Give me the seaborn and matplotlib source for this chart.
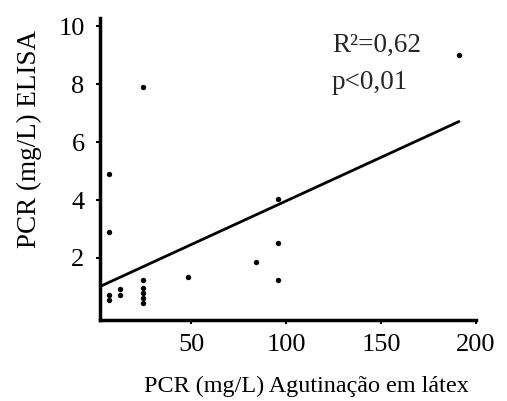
import numpy as np
import pandas as pd
import matplotlib
matplotlib.use("Agg")
import matplotlib.pyplot as plt
import seaborn as sns

# Data
latex = [24.6, 6.4, 6.4, 0.8, 95.7, 95.7, 95.7, 84.0, 48.0, 24.6,
         24.6, 24.6, 24.6, 24.6, 12.3, 12.3, 6.4, 6.4, 1.0, 191.0]
elisa = [7.9, 4.9, 2.9, 1.87, 4.03, 2.5, 1.24, 1.85, 1.33, 1.24,
         0.96, 0.78, 0.61, 0.46, 0.92, 0.72, 0.72, 0.55, 0.49, 9.02]
fit_intercept = 0.96
fit_slope = 0.0301
x_ticks = [50, 100, 150, 200]
y_ticks = [2, 4, 6, 8, 10]
annot_lines = ["R²=0,62", "p<0,01"]
xlabel = "PCR (mg/L) Agutinação em látex"
ylabel = "PCR (mg/L) ELISA"

df = pd.DataFrame({"latex": latex, "elisa": elisa})

sns.set_style("ticks")
plt.rcParams["font.family"] = ["Liberation Serif", "DejaVu Serif"]

fig = plt.figure(figsize=(5.07, 4.01), dpi=100)
ax = fig.add_axes([0.197, 0.202, 0.742, 0.753])

xlim = (1.8, 200)
sns.scatterplot(data=df, x="latex", y="elisa", ax=ax, s=15, color="black",
                marker="o", linewidth=0)
fit_x = np.array([xlim[0], max(latex)])
fit_df = pd.DataFrame({"x": fit_x, "y": fit_intercept + fit_slope * fit_x})
sns.lineplot(data=fit_df, x="x", y="y", ax=ax, color="black", lw=2)

ax.set_xlim(*xlim)
ax.set_ylim(-0.14, 10.28)
ax.set_xticks(x_ticks)
ax.set_yticks(y_ticks)
ax.tick_params(axis="both", labelsize=19, length=3, width=1.5, color="black",
               labelcolor="black")
ax.tick_params(axis="x", pad=7)
ax.tick_params(axis="y", pad=8)
for s in ["top", "right"]:
    ax.spines[s].set_visible(False)
for s in ["left", "bottom"]:
    ax.spines[s].set_linewidth(2.5)
    ax.spines[s].set_color("black")

ax.set_xlabel(xlabel, fontsize=17.4, color="black", labelpad=14, x=0.55)
ax.set_ylabel(ylabel, fontsize=19.5, color="black", labelpad=12, y=0.6)

ax.text(0.617, 0.95, "\n".join(annot_lines), transform=ax.transAxes,
        fontsize=19.5, va="top", ha="left", linespacing=1.65)

fig.savefig("out.png", dpi=100)
